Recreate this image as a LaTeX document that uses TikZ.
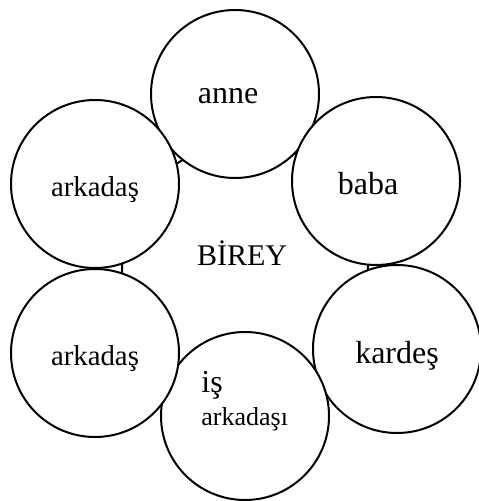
\documentclass[tikz,border=0pt]{standalone}
\usepackage{fontspec}
\setmainfont{Liberation Serif}

\begin{document}
\begin{tikzpicture}[x=0.5pt,y=-0.5pt,
  ring/.style={circle,draw,fill=white,line width=1pt,minimum size=84pt,inner sep=0pt},
  core/.style={circle,draw,line width=1pt,minimum size=123pt,inner sep=0pt},
  word/.style={anchor=base,inner sep=0pt,font=\fontsize{16}{19}\selectfont},
  small/.style={word,font=\fontsize{14.4}{17}\selectfont}]
  \useasboundingbox (0,0) rectangle (478,501);
  % centre
  \node[core] (birey) at (245,266) {};
  % circles round it
  \foreach \n/\x/\y in {anne/235/94,baba/376/181,kardes/397/349,is/245/416,arkB/95/353,arkA/95/184}
    { \node[ring] (\n) at (\x,\y) {}; }
  % texts
  \node[word,font=\fontsize{15}{18}\selectfont] (tBirey) at (242,265) {BİREY};
  \node[word] (tAnne) at (228,104) {anne};
  \node[word] (tBaba) at (368,195) {baba};
  \node[word] (tKardes) at (397,363) {kardeş};
  \node[small] (tArkA) at (95,197) {arkadaş};
  \node[small] (tArkB) at (95,365) {arkadaş};
  \node[word,anchor=base west] (tIs) at (201,392) {iş};
  \node[word,anchor=base west,font=\fontsize{13}{15}\selectfont] (tIsArk) at (201,425) {arkadaşı};
\end{tikzpicture}
\end{document}
